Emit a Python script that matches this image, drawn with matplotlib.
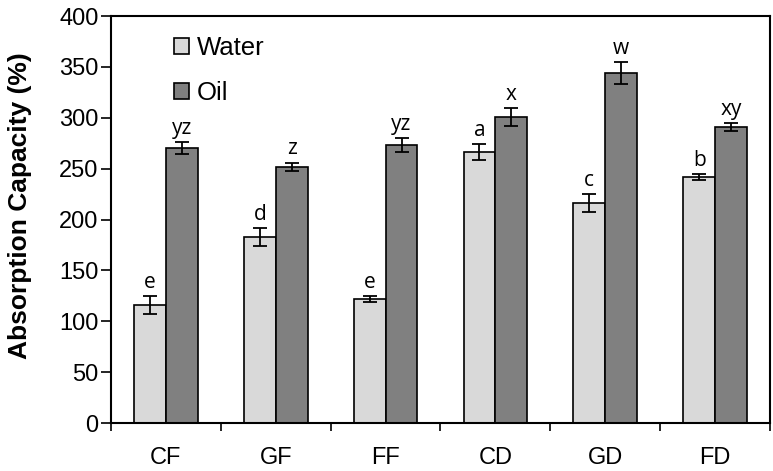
import numpy as np
import matplotlib
matplotlib.use('Agg')
from matplotlib import pyplot as plt

# data
cats=['CF','GF','FF','CD','GD','FD']
water=[116,183,122,266,216,242]
water_err=[9,9,3,8,9,3]
oil=[270,252,273,301,344,291]
oil_err=[6,4,7,9,11,4]
water_lab=['e','d','e','a','c','b']
oil_lab=['yz','z','yz','x','w','xy']

plt.rcParams['font.family']=['Liberation Sans','DejaVu Sans']

fig=plt.figure(figsize=(7.73,4.71),dpi=100)
ax=fig.add_axes([0.1436,0.1019,0.8525,0.8641])

x=np.arange(len(cats))
w=0.29
ekw=dict(elinewidth=1.3,capthick=1.3)
ax.bar(x-w/2,water,w,yerr=water_err,capsize=5,color='#d9d9d9',edgecolor='black',
       linewidth=1.2,error_kw=ekw,label='Water')
ax.bar(x+w/2,oil,w,yerr=oil_err,capsize=5,color='#808080',edgecolor='black',
       linewidth=1.2,error_kw=ekw,label='Oil')

for i in range(len(cats)):
    ax.text(x[i]-w/2,water[i]+water_err[i]+3,water_lab[i],ha='center',va='bottom',
            fontsize=15,family=['Open Sans','DejaVu Sans'])
    ax.text(x[i]+w/2,oil[i]+oil_err[i]+3,oil_lab[i],ha='center',va='bottom',
            fontsize=15,family=['Open Sans','DejaVu Sans'])

ax.set_xlim(-0.5,len(cats)-0.5)
ax.set_ylim(0,400)
ax.set_yticks(np.arange(0,401,50))
ax.set_xticks(x)
ax.set_xticklabels(cats)
ax.set_xticks(np.arange(-0.5,len(cats)),minor=True)
ax.tick_params(axis='x',which='major',length=0,labelsize=17,pad=17)
ax.tick_params(axis='x',which='minor',length=6,width=1.2,direction='out')
ax.tick_params(axis='y',labelsize=17,length=7,width=1.2,direction='out',pad=2)
for s in ax.spines.values():
    s.set_linewidth(1.5)
ax.set_ylabel('Absorption Capacity (%)',fontsize=19,fontweight='bold')
ax.yaxis.set_label_coords(-0.12,0.535)

ax.legend(loc='upper left',bbox_to_anchor=(0.095,0.95),frameon=False,fontsize=18.5,
          handlelength=0.6,handleheight=0.6,handletextpad=0.3,labelspacing=0.8,
          borderpad=0,borderaxespad=0)

fig.savefig('out.png',dpi=100)
